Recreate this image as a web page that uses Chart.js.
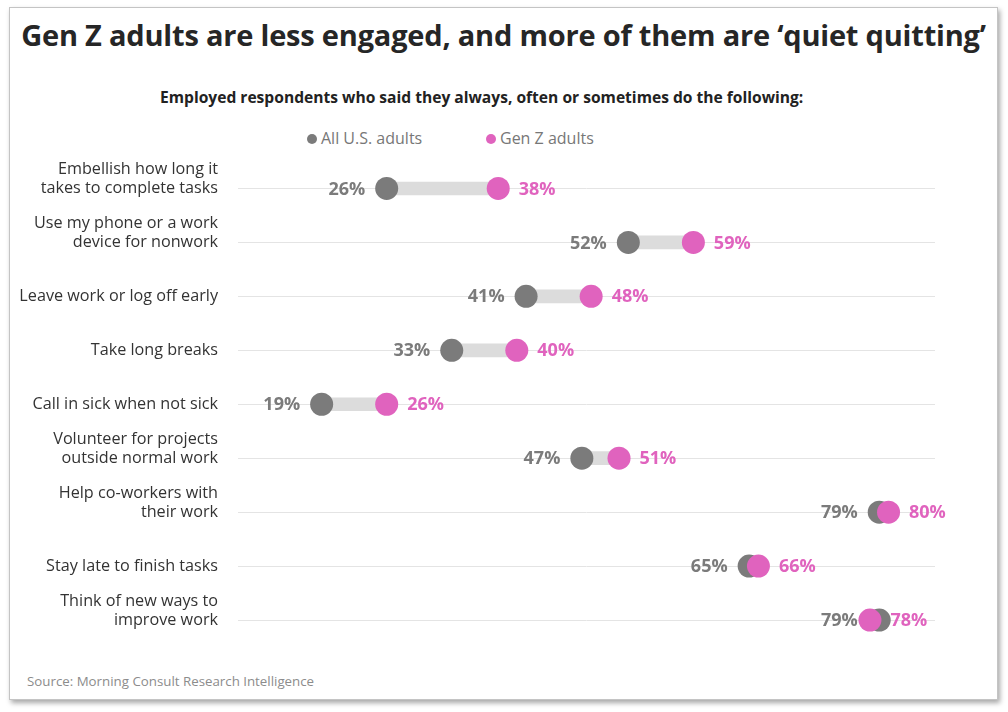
<!DOCTYPE html>
<html>
<head>
<meta charset="utf-8">
<script src="https://cdn.jsdelivr.net/npm/chart.js@4"></script>
<style>
  body { margin: 0; background: #fff; font-family: "Open Sans", sans-serif; }
  #page { position: relative; width: 1008px; height: 712px; overflow: hidden; }
  #card {
    position: absolute; left: 9px; top: 7px; width: 987px; height: 691px;
    border: 1px solid #c4c4c4; background: #fff;
    box-shadow: 2px 3px 5px rgba(0, 0, 0, 0.35);
  }
  #title {
    position: absolute; left: 9px; width: 989px; top: 15px;
    text-align: center; font-size: 29px; font-weight: 700; color: #262626;
    white-space: nowrap; letter-spacing: -0.2px;
  }
  #subtitle {
    position: absolute; left: 160px; top: 86px;
    font-size: 15.6px; font-weight: 700; color: #222; white-space: nowrap;
  }
  .legend { position: absolute; top: 127px; font-size: 16px; color: #777; white-space: nowrap; }
  .legend i { display: inline-block; width: 10px; height: 10px; border-radius: 50%; margin-right: 4px; vertical-align: 0px; }
  #source { position: absolute; left: 27px; top: 672px; font-size: 13.3px; color: #8c8c8c; }
  #chartBox { position: absolute; left: 0; top: 150px; width: 1008px; height: 510px; }
</style>
</head>
<body>
<div id="page">
  <div id="card"></div>
  <div id="title">Gen Z adults are less engaged, and more of them are ‘quiet quitting’</div>
  <div id="subtitle">Employed respondents who said they always, often or sometimes do the following:</div>
  <div class="legend" style="left:307px"><i style="background:#7b7b7b"></i>All U.S. adults</div>
  <div class="legend" style="left:486px"><i style="background:#e063be"></i>Gen Z adults</div>
  <div id="source">Source: Morning Consult Research Intelligence</div>
  <div id="chartBox"><canvas id="chart"></canvas></div>
</div>
<script>
// 問題項目（多行標籤）
const categories = [
    ['Embellish how long it', 'takes to complete tasks'],
    ['Use my phone or a work', 'device for nonwork'],
    ['Leave work or log off early'],
    ['Take long breaks'],
    ['Call in sick when not sick'],
    ['Volunteer for projects', 'outside normal work'],
    ['Help co-workers with', 'their work'],
    ['Stay late to finish tasks'],
    ['Think of new ways to', 'improve work']
];
const allAdults = [26, 52, 41, 33, 19, 47, 79, 65, 79];
const genZ = [38, 59, 48, 40, 26, 51, 80, 66, 78];
const seriesNames = ['All U.S. adults', 'Gen Z adults'];

const GRAY = '#7b7b7b';
const PINK = '#e063be';
const DOT_R = 11.5;

// 兩行標籤：最後一行對齊格線
const tickLabels = categories.map(lines => lines.length > 1 ? lines.concat(['']) : lines[0]);

// 數值標籤
const valueLabels = {
    id: 'valueLabels',
    afterDatasetsDraw(chart) {
        const ctx = chart.ctx;
        ctx.save();
        ctx.font = '700 18px "Open Sans", sans-serif';
        ctx.textBaseline = 'middle';
        const grayMeta = chart.getDatasetMeta(1);
        const pinkMeta = chart.getDatasetMeta(0);
        grayMeta.data.forEach((pt, i) => {
            ctx.fillStyle = GRAY;
            ctx.textAlign = 'right';
            ctx.fillText(allAdults[i] + '%', pt.x - DOT_R - 10, pt.y + 1);
        });
        pinkMeta.data.forEach((pt, i) => {
            ctx.fillStyle = PINK;
            ctx.textAlign = 'left';
            ctx.fillText(genZ[i] + '%', pt.x + DOT_R + 9, pt.y + 1);
        });
        ctx.restore();
    }
};

new Chart(document.getElementById('chart'), {
    type: 'bar',
    data: {
        labels: tickLabels,
        datasets: [
            {
                type: 'line',
                label: seriesNames[1],
                data: genZ.map((v, i) => ({ x: v, y: i })),
                showLine: false,
                pointRadius: DOT_R,
                pointBackgroundColor: PINK,
                pointBorderWidth: 0,
                order: 0
            },
            {
                type: 'line',
                label: seriesNames[0],
                data: allAdults.map((v, i) => ({ x: v, y: i })),
                showLine: false,
                pointRadius: DOT_R,
                pointBackgroundColor: GRAY,
                pointBorderWidth: 0,
                order: 1
            },
            {
                label: 'range',
                data: allAdults.map((v, i) => [v, genZ[i]]),
                backgroundColor: '#dcdcdc',
                borderWidth: 0,
                barThickness: 13,
                order: 2
            }
        ]
    },
    options: {
        indexAxis: 'y',
        responsive: true,
        maintainAspectRatio: false,
        animation: false,
        layout: { padding: { left: 0, right: 73, top: 10, bottom: 13 } },
        plugins: {
            legend: { display: false },
            tooltip: { enabled: false }
        },
        scales: {
            x: {
                type: 'linear',
                min: 10,
                max: 85,
                display: false
            },
            y: {
                type: 'category',
                offset: true,
                border: { display: false },
                grid: { offset: false, color: '#e4e4e4', lineWidth: 1, drawTicks: false },
                ticks: {
                    autoSkip: false,
                    padding: 20,
                    color: '#333',
                    font: { family: '"Open Sans", sans-serif', size: 16.2, lineHeight: 1.17 }
                },
                afterFit(scale) {
                    scale.width = 238;
                    scale.paddingTop = 0;
                    scale.paddingBottom = 0;
                }
            }
        }
    },
    plugins: [valueLabels]
});
</script>
</body>
</html>
